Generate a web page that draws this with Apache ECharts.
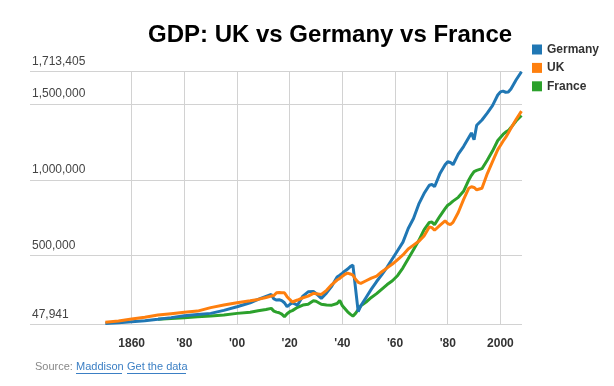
<!DOCTYPE html>
<html>
<head>
<meta charset="utf-8">
<script src="https://cdn.jsdelivr.net/npm/echarts@6/dist/echarts.min.js"></script>
<style>
html,body{margin:0;padding:0;background:#fff;}
#chart{width:614px;height:386px;}
</style>
</head>
<body>
<div id="chart"></div>
<script>
// ---- data ----
var years = [1850,1855,1860,1865,1870,1875,1880,1885,1890,1895,1900,1905,1908,1911,1913,1914,1915,1916,1917,1918,1919,1920,1921,1923,1925,1927,1929,1930,1932,1934,1936,1938,1939,1940,1941,1942,1943,1944,1945,1946,1947,1949,1951,1953,1955,1957,1959,1961,1963,1965,1967,1969,1971,1973,1974,1975,1977,1979,1980,1981,1982,1984,1986,1988,1989,1990,1991,1993,1995,1997,1999,2000,2001,2002,2003,2004,2006,2008];

var germany = [54000,58000,65000,72000,81000,92000,104000,112000,120000,140000,164000,190000,212000,232000,245000,215000,208000,210000,204000,190000,164000,178000,190000,175000,234000,262000,265000,252000,219000,255000,300000,360000,372000,385000,400000,412000,428000,438000,null,131000,170000,225000,280000,330000,375000,425000,480000,535000,590000,680000,745000,840000,910000,965000,970000,955000,1040000,1100000,1120000,1115000,1100000,1170000,1220000,1280000,1310000,1265000,1360000,1395000,1440000,1490000,1560000,1580000,1585000,1578000,1580000,1600000,1660000,1713405];

var uk = [61000,70000,83000,95000,109000,118000,127000,135000,158000,175000,190000,203000,212000,225000,234000,238000,256000,258000,256000,256000,230000,212000,195000,208000,223000,234000,252000,250000,245000,272000,310000,340000,350000,365000,378000,385000,380000,372000,345000,325000,318000,335000,352000,365000,395000,420000,445000,475000,505000,545000,570000,595000,630000,690000,685000,668000,700000,730000,712000,705000,720000,785000,870000,945000,955000,950000,935000,945000,1040000,1120000,1200000,1227000,1255000,1280000,1310000,1340000,1400000,1453000];

var france = [null,null,null,null,81000,86000,91000,97000,102000,110000,120000,128000,137000,145000,153000,135000,128000,124000,115000,98000,118000,131000,138000,160000,175000,180000,203000,200000,180000,175000,174000,185000,205000,170000,150000,130000,115000,102000,120000,145000,170000,195000,225000,250000,280000,310000,335000,370000,420000,480000,540000,600000,670000,720000,722000,705000,760000,810000,833000,845000,860000,885000,925000,1000000,1030000,1055000,1063000,1074000,1130000,1190000,1260000,1280000,1300000,1315000,1325000,1345000,1390000,1425000];

var seriesNames = ['Germany','UK','France'];
var seriesColors = ['#2077b4','#fe7f0e','#2ca12c'];
var xTicks = [1860,1880,1900,1920,1940,1960,1980,2000];
var yTicks = [47941,500000,1000000,1500000,1713405];
var titleText = 'GDP: UK vs Germany vs France';

// ---- chart ----
function pairs(vals){
  var out = [];
  for (var i = 0; i < years.length; i++) out.push([years[i], vals[i]]);
  return out;
}
var allValues = [germany, uk, france];
var chart = echarts.init(document.getElementById('chart'), null, {renderer:'canvas'});
var font = 'Arial, "Liberation Sans", sans-serif';

chart.setOption({
  animation: false,
  backgroundColor: '#fff',
  title: {
    text: titleText,
    left: 143, top: 18,
    textStyle: {fontFamily: font, fontSize: 24, fontWeight: 'bold', color: '#000'}
  },
  legend: {
    orient: 'vertical',
    left: 527, top: 38.5,
    icon: 'rect', itemWidth: 10, itemHeight: 10, itemGap: 6.4,
    data: seriesNames,
    textStyle: {fontFamily: font, fontSize: 12, fontWeight: 'bold', color: '#333'}
  },
  grid: {left: 30, right: 92, top: 71.7, bottom: 61.7, containLabel: false},
  xAxis: {
    type: 'value',
    min: 1821.4, max: 2008.2,
    axisLine: {show: false},
    axisTick: {show: false, customValues: xTicks},
    splitLine: {show: true, lineStyle: {color: '#d2d2d2', width: 1}},
    axisLabel: {
      customValues: xTicks,
      margin: 13,
      fontFamily: font, fontSize: 12, fontWeight: 'bold', color: '#333',
      formatter: function(v){
        if (v === 1860 || v === 2000) return String(v);
        return "'" + String(v).slice(2);
      }
    }
  },
  yAxis: {
    type: 'value',
    min: 47941, max: 1713405,
    axisLine: {show: false},
    axisTick: {show: false, customValues: yTicks},
    splitLine: {show: true, lineStyle: {color: '#d2d2d2', width: 1}},
    axisLabel: {
      customValues: yTicks,
      inside: true,
      margin: 2,
      verticalAlign: 'bottom',
      padding: [0,0,4,0],
      fontFamily: font, fontSize: 12, color: '#444',
      formatter: function(v){ return Math.round(v).toLocaleString('en-US'); }
    }
  },
  series: seriesNames.map(function(name, i){
    return {
      name: name,
      type: 'line',
      data: pairs(allValues[i]),
      showSymbol: false,
      symbol: 'none',
      connectNulls: true,
      lineStyle: {width: 3, color: seriesColors[i]},
      itemStyle: {color: seriesColors[i]},
      z: i === 2 ? 1 : 2
    };
  }),
  graphic: [
    {type: 'text', left: 35, top: 361, style: {text: 'Source:', font: '11px ' + font, fill: '#888'}},
    {type: 'text', left: 76, top: 361, style: {text: 'Maddison', font: '11px ' + font, fill: '#3b7fc4'}},
    {type: 'text', left: 127, top: 361, style: {text: 'Get the data', font: '11px ' + font, fill: '#3b7fc4'}},
    {type: 'line', shape: {x1: 76, y1: 373.5, x2: 122, y2: 373.5}, style: {stroke: '#3b7fc4', lineWidth: 1}},
    {type: 'line', shape: {x1: 127, y1: 373.5, x2: 186, y2: 373.5}, style: {stroke: '#3b7fc4', lineWidth: 1}}
  ]
});
</script>
</body>
</html>
